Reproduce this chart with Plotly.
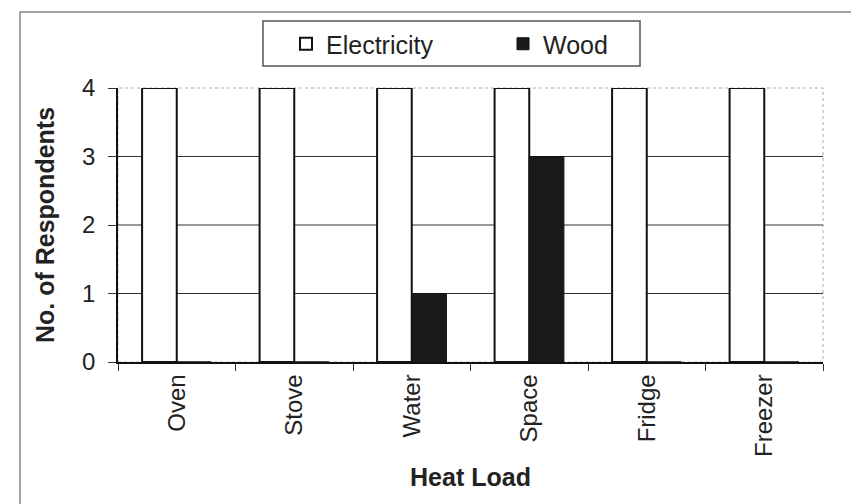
import plotly.graph_objects as go

categories = ["Oven", "Stove", "Water", "Space", "Fridge", "Freezer"]
electricity = [4, 4, 4, 4, 4, 4]
wood = [0, 0, 1, 3, 0, 0]
y_ticks = [0, 1, 2, 3, 4]

W, H = 859, 504
L, R, T, B = 110, 44, 80, 150
pw, ph = W - L - R, H - T - B

def px(x):
    return (x - L) / pw

def py(y):
    return (H - B - y) / ph

fig = go.Figure()
fig.add_trace(go.Bar(
    x=categories, y=electricity, name="Electricity",
    marker=dict(color="white", line=dict(color="#111", width=2)),
))
fig.add_trace(go.Bar(
    x=categories, y=wood, name="Wood",
    marker=dict(color="#1a1a1a", line=dict(color="#111", width=1)),
))

font = "Liberation Sans, Arial, sans-serif"
shapes = [
    # plot-area border (light, dotted)
    dict(type="rect", xref="paper", yref="paper", x0=0, x1=1, y0=0, y1=1,
         line=dict(color="#aaa", width=1, dash="dot"), layer="below"),
    # outer chart border
    dict(type="rect", xref="paper", yref="paper",
         x0=px(12), x1=px(858), y0=py(499), y1=py(4),
         line=dict(color="#888", width=1.5)),
    # legend box
    dict(type="rect", xref="paper", yref="paper",
         x0=px(255), x1=px(632), y0=py(58), y1=py(13),
         line=dict(color="#555", width=1.5), fillcolor="white", layer="below"),
]
for v in y_ticks:
    if 0 < v < max(y_ticks):
        shapes.append(dict(type="line", xref="paper", yref="y", x0=0, x1=1, y0=v, y1=v,
                           line=dict(color="#333", width=1), layer="below"))

fig.update_layout(
    width=W, height=H,
    margin=dict(l=L, r=R, t=T, b=B),
    paper_bgcolor="white", plot_bgcolor="white",
    barmode="group", bargap=0.41, bargroupgap=0,
    font=dict(family=font, size=24, color="#222"),
    showlegend=True,
    legend=dict(
        orientation="h", x=px(278), y=py(36), xanchor="left", yanchor="middle",
        borderwidth=0, bgcolor="rgba(0,0,0,0)",
        font=dict(size=25, color="#222"), itemwidth=30, entrywidth=172,
    ),
    xaxis=dict(
        showline=True, linecolor="#111", linewidth=1.5,
        ticks="outside", tickson="boundaries", ticklen=7, tickcolor="#333",
        tickangle=-90, tickfont=dict(size=24), ticklabelstandoff=1,
        title=dict(text="<b>Heat Load</b>", font=dict(size=25), standoff=12),
    ),
    yaxis=dict(
        range=[0, 4], tickvals=y_ticks, showline=True, linecolor="#111", linewidth=1.5,
        ticks="outside", ticklen=8, tickcolor="#333",
        showgrid=False, zeroline=False,
        tickfont=dict(size=24), ticklabelstandoff=8,
        title=dict(text="<b>No. of Respondents</b>", font=dict(size=25), standoff=20),
    ),
    shapes=shapes,
)

fig.write_html("out.html")
